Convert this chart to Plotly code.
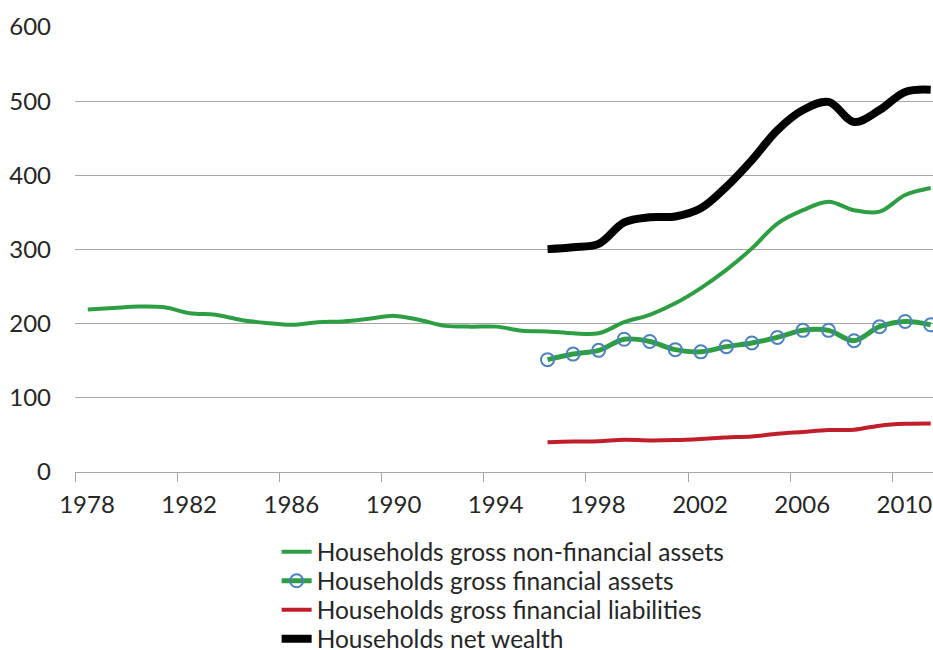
import plotly.graph_objects as go

# Данные (индекс, чтение с графика)
years_all = list(range(1978, 2012))
years_late = list(range(1996, 2012))

non_fin_assets = [219, 221, 223, 222, 214, 212, 205, 201, 198.5, 202, 203, 206.5,
                  210.5, 205, 197, 196, 196, 190.5, 189.5, 187, 187, 202, 212, 227.5,
                  248, 272.5, 301.5, 335, 353, 364.5, 353, 351, 373.5, 383]
fin_assets = [151.5, 159, 164, 179, 176, 165, 162, 169, 174, 181.5, 191, 191, 177, 196, 203, 198.5]
fin_liabilities = [40, 41, 41.5, 43.5, 42.5, 43, 44.5, 46.5, 48, 51.5, 54, 56.5, 57, 62.5, 65, 65.5]
net_wealth = [300.5, 303, 307.5, 336.5, 343.5, 344.5, 355.5, 384.5, 420.5, 461, 488, 499, 472, 488, 512.5, 515.5]

names = ["Households gross non-financial assets",
         "Households gross financial assets",
         "Households gross financial liabilities",
         "Households net wealth"]

x_ticks = list(range(1978, 2012, 4))
y_ticks = [0, 100, 200, 300, 400, 500, 600]

green = "rgb(46,158,68)"
red = "rgb(192,30,42)"
blue = "rgb(79,129,189)"
font_name = "Lato"
txt = "#262626"

fig = go.Figure()

fig.add_trace(go.Scatter(x=years_all, y=non_fin_assets, name=names[0], mode="lines", legend="legend",
                         line=dict(color=green, width=4, shape="spline")))
fig.add_trace(go.Scatter(x=years_late, y=fin_assets, name=names[1], mode="lines+markers", legend="legend2",
                         line=dict(color=green, width=5, shape="spline"),
                         marker=dict(symbol="circle-open", size=13, color=blue, line=dict(width=2, color=blue))))
fig.add_trace(go.Scatter(x=years_late, y=fin_liabilities, name=names[2], mode="lines", legend="legend3",
                         line=dict(color=red, width=4, shape="spline")))
fig.add_trace(go.Scatter(x=years_late, y=net_wealth, name=names[3], mode="lines", legend="legend4",
                         line=dict(color="black", width=8, shape="spline")))

# Оси (метки годов стоят по центру категории, засечки - между категориями)
fig.update_xaxes(range=[1977.5, 2011.09],
                 tickvals=[t - 0.5 for t in x_ticks], ticktext=[str(t) for t in x_ticks],
                 ticklabelshift=12, ticklabeloverflow="allow",
                 ticks="outside", ticklen=9, tickcolor="#A6A6A6", tickwidth=1,
                 showline=True, linecolor="#A6A6A6", linewidth=1.3,
                 showgrid=False, zeroline=False,
                 tickfont=dict(family=font_name, size=24, color=txt), ticklabelstandoff=2)
fig.update_yaxes(range=[0, 600], tickvals=y_ticks,
                 showgrid=True, gridcolor="#A6A6A6", gridwidth=1.3,
                 zeroline=False, showline=False, ticks="",
                 tickfont=dict(family=font_name, size=24, color=txt), ticklabelstandoff=23)

# Легенда: по одной записи на строку, чтобы держать шаг ~30 px
leg_rows = [-0.1795, -0.2446, -0.3096, -0.3747]
leg_common = dict(orientation="v", x=0.235, xanchor="left", yanchor="middle",
                  font=dict(family=font_name, size=24.5, color=txt),
                  itemwidth=30, bgcolor="rgba(0,0,0,0)")
fig.update_layout(showlegend=True,
                  legend=dict(y=leg_rows[0], **leg_common),
                  legend2=dict(y=leg_rows[1], **leg_common),
                  legend3=dict(y=leg_rows[2], **leg_common),
                  legend4=dict(y=leg_rows[3], **leg_common))

fig.update_layout(width=933, height=650, autosize=False,
                  plot_bgcolor="white", paper_bgcolor="white",
                  margin=dict(l=75, r=0, t=27, b=177.5, pad=0, autoexpand=False))

# убираем отступ body, чтобы фигура стояла ровно в окне без прокрутки
fig.write_html("out.html", config={"displayModeBar": False},
               post_script="document.body.style.margin='0';document.body.style.overflow='hidden';")
